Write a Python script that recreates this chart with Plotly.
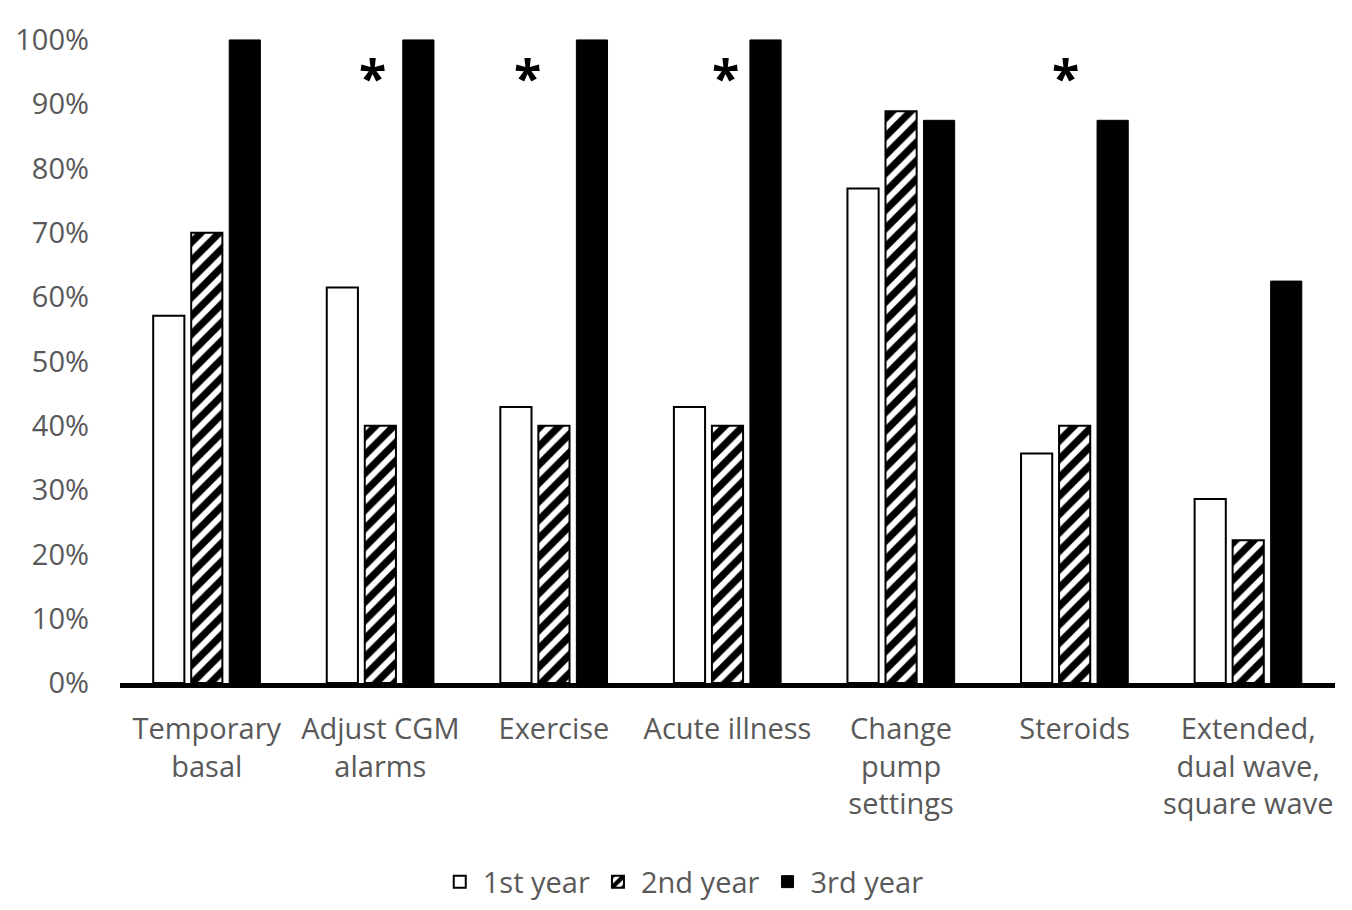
import plotly.graph_objects as go

categories = ["Temporary basal", "Adjust CGM alarms", "Exercise", "Acute illness",
              "Change pump settings", "Steroids", "Extended, dual wave, square wave"]
tick_labels = ["Temporary<br>basal", "Adjust CGM<br>alarms", "Exercise", "Acute illness",
               "Change<br>pump<br>settings", "Steroids", "Extended,<br>dual wave,<br>square wave"]
year1 = [57.1, 61.5, 42.9, 42.9, 76.9, 35.7, 28.6]
year2 = [70.0, 40.0, 40.0, 40.0, 88.9, 40.0, 22.2]
year3 = [100.0, 100.0, 100.0, 100.0, 87.5, 87.5, 62.5]
series_names = ["1st year", "2nd year", "3rd year"]
significant = ["Adjust CGM alarms", "Exercise", "Acute illness", "Steroids"]
y_ticks = [0, 10, 20, 30, 40, 50, 60, 70, 80, 90, 100]
y_tick_labels = [f"{v}%" for v in y_ticks]

FONT = "Open Sans"
GRAY = "#595959"

fig = go.Figure()
fig.add_bar(name=series_names[0], x=categories, y=year1,
            marker=dict(color="white", line=dict(color="black", width=2)))
fig.add_bar(name=series_names[1], x=categories, y=year2,
            marker=dict(color="white", line=dict(color="black", width=2),
                        pattern=dict(shape="/", fgcolor="black", bgcolor="white",
                                     fgopacity=1, size=13, solidity=0.55)))
fig.add_bar(name=series_names[2], x=categories, y=year3,
            marker=dict(color="black", line=dict(color="black", width=1)))

# asterisk offsets (in category units) relative to category centre
star_shift = {"Adjust CGM alarms": -0.043, "Exercise": -0.155,
              "Acute illness": -0.01, "Steroids": -0.05}
for c in significant:
    idx = categories.index(c)
    fig.add_annotation(x=idx + star_shift[c], y=95.2, xref="x", yref="y",
                       text="<b>*</b>", showarrow=False,
                       font=dict(family=FONT, size=50, color="black"),
                       yshift=-6)

fig.update_layout(
    width=1352, height=910,
    margin=dict(l=120, r=17, t=38, b=227),
    paper_bgcolor="white", plot_bgcolor="white",
    barmode="group", bargap=0.343, bargroupgap=0.18,
    font=dict(family=FONT, size=29, color=GRAY),
    showlegend=True,
    legend=dict(orientation="h", xref="container", yref="container",
                x=0.505, xanchor="center", y=0.031, yanchor="middle",
                font=dict(family=FONT, size=29, color=GRAY), traceorder="normal",
                itemwidth=36),
    xaxis=dict(type="category", tickvals=categories, ticktext=tick_labels,
               showline=True, linecolor="black", linewidth=5, ticks="",
               tickfont=dict(family=FONT, size=29, color=GRAY), showgrid=False,
               range=[-0.5, 6.5], automargin=False, ticklabelstandoff=16),
    yaxis=dict(range=[0, 100.3], tickvals=y_ticks, ticktext=y_tick_labels,
               showgrid=False, zeroline=False, showline=False, ticks="",
               tickfont=dict(family=FONT, size=29, color=GRAY),
               automargin=False, ticklabelstandoff=30),
)

fig.write_html("out.html", config={"displayModeBar": False},
               post_script="document.body.style.margin='0px';")
